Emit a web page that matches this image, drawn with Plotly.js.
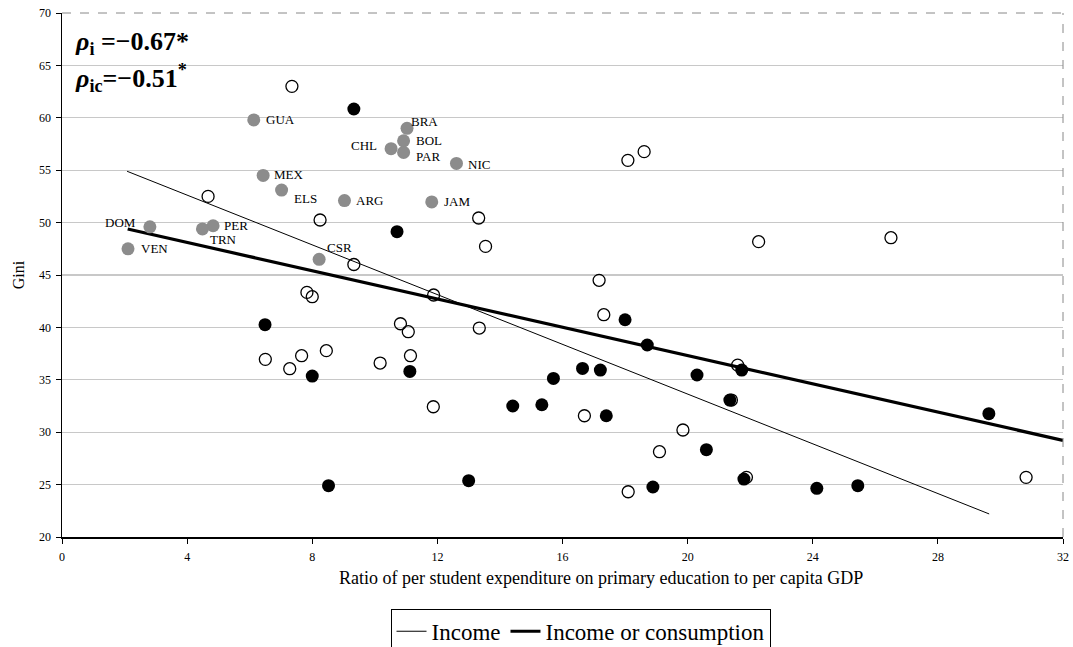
<!DOCTYPE html>
<html>
<head>
<meta charset="utf-8">
<script src="https://cdn.plot.ly/plotly-3.0.1.min.js"></script>
<style>html,body{margin:0;padding:0;background:#fff;}#chart{width:1073px;height:647px;}</style>
</head>
<body>
<div id="chart"></div>
<script>
// Latin American countries (gray, labelled)
var latNames = ["GUA","MEX","ELS","ARG","DOM","PER","TRN","VEN","CSR","BRA","BOL","CHL","PAR","NIC","JAM"];
var latX = [6.13, 6.43, 7.02, 9.03, 2.81, 4.83, 4.49, 2.11, 8.22, 11.03, 10.92, 10.52, 10.92, 12.61, 11.82];
var latY = [59.8, 54.5, 53.1, 52.1, 49.6, 49.7, 49.4, 47.5, 46.5, 59.0, 57.8, 57.05, 56.7, 55.65, 51.97];

// Income-based Gini (open circles)
var incX = [7.35, 4.67, 8.25, 9.33, 13.32, 13.54, 18.09, 18.61, 22.27, 26.50, 7.83, 8.0, 6.50, 7.28, 7.66, 8.45, 11.88, 10.82, 11.07, 13.34, 10.17, 11.14, 11.87, 17.17, 17.32, 16.70, 18.10, 19.85, 19.10, 30.82, 21.40, 21.60, 21.88];
var incY = [63.0, 52.5, 50.25, 46.0, 50.44, 47.73, 55.94, 56.77, 48.18, 48.56, 43.34, 42.93, 36.95, 36.06, 37.3, 37.78, 43.09, 40.35, 39.59, 39.94, 36.6, 37.3, 32.43, 44.49, 41.21, 31.57, 24.32, 30.21, 28.14, 25.69, 33.07, 36.4, 25.69];

// Consumption-based Gini (filled black)
var conX = [9.33, 10.71, 6.49, 8.0, 8.52, 11.12, 13.0, 14.41, 15.34, 15.71, 16.64, 17.21, 17.40, 18.0, 18.71, 18.89, 20.30, 20.60, 21.35, 21.73, 21.80, 24.13, 25.44, 29.63];
var conY = [60.84, 49.13, 40.26, 35.36, 24.9, 35.8, 25.37, 32.5, 32.62, 35.13, 36.09, 35.93, 31.57, 40.73, 38.32, 24.77, 35.46, 28.33, 33.07, 35.93, 25.53, 24.64, 24.9, 31.77];

// Fitted lines
var fitIncX = [2.08, 29.64];
var fitIncY = [54.9, 22.2];
var fitAllX = [2.1, 32];
var fitAllY = [49.39, 29.22];

// Tick labels
var xTicks = [0, 4, 8, 12, 16, 20, 24, 28, 32];
var yTicks = [20, 25, 30, 35, 40, 45, 50, 55, 60, 65, 70];

// label placement (pixel offsets from marker centre), style only
var labelStyle = {
  GUA: {dx: 10, dy: 0, a: "left"},  MEX: {dx: 9, dy: -1, a: "left"},  ELS: {dx: 10, dy: 8, a: "left"},
  ARG: {dx: 10, dy: 0, a: "left"},  DOM: {dx: -12, dy: -4, a: "right"}, PER: {dx: 9, dy: 0, a: "left"},
  TRN: {dx: 6, dy: 11, a: "left"},  VEN: {dx: 11, dy: 0, a: "left"},  CSR: {dx: 6, dy: -12, a: "left"},
  BRA: {dx: 2, dy: -7, a: "left"},  BOL: {dx: 10, dy: 0, a: "left"},  CHL: {dx: -12, dy: -3, a: "right"},
  PAR: {dx: 10, dy: 4, a: "left"},  NIC: {dx: 10, dy: 1, a: "left"},  JAM: {dx: 10, dy: 0, a: "left"}
};

var serif = "'Liberation Serif', 'Times New Roman', serif";

var traces = [
  {x: fitIncX, y: fitIncY, mode: "lines", name: "Income", line: {color: "#000", width: 1}, hoverinfo: "skip"},
  {x: fitAllX, y: fitAllY, mode: "lines", name: "Income or consumption", line: {color: "#000", width: 3.2}, hoverinfo: "skip"},
  {x: incX, y: incY, mode: "markers", showlegend: false,
   marker: {symbol: "circle-open", size: 12, color: "#000", line: {width: 1.3, color: "#000"}}},
  {x: conX, y: conY, mode: "markers", showlegend: false,
   marker: {symbol: "circle", size: 13, color: "#000"}},
  {x: latX, y: latY, mode: "markers", showlegend: false,
   marker: {symbol: "circle", size: 13, color: "#8c8c8c"}}
];

var annotations = [
  {xref: "paper", yref: "paper", x: 0.538, y: -0.078, xanchor: "center", yanchor: "middle", showarrow: false,
   text: "Ratio of per student expenditure on primary education to per capita GDP",
   font: {family: serif, size: 18, color: "#000"}},
  {xref: "paper", yref: "paper", x: 0.011, y: 0.943, xanchor: "left", yanchor: "middle", showarrow: false, align: "left",
   text: "<b><i>ρ</i><sub>i</sub> =−0.67*</b>", font: {family: serif, size: 26, color: "#000"}},
  {xref: "paper", yref: "paper", x: 0.011, y: 0.876, xanchor: "left", yanchor: "middle", showarrow: false, align: "left",
   text: "<b><i>ρ</i><sub>ic</sub>=−0.51<sup>*</sup></b>", font: {family: serif, size: 26, color: "#000"}}
];
latNames.forEach(function (n, i) {
  var s = labelStyle[n];
  annotations.push({x: latX[i], y: latY[i], xref: "x", yref: "y", text: n, showarrow: false,
    xanchor: s.a, yanchor: "middle", xshift: s.dx, yshift: -s.dy,
    font: {family: serif, size: 13, color: "#000"}});
});

var layout = {
  width: 1073, height: 647,
  margin: {l: 62, r: 10, t: 13, b: 110, autoexpand: false},
  paper_bgcolor: "#fff", plot_bgcolor: "#fff",
  font: {family: serif, color: "#000", size: 12},
  showlegend: true,
  legend: {orientation: "h", x: 0.518, xanchor: "center", y: -0.137, yanchor: "top",
    bordercolor: "#000", borderwidth: 1, font: {family: serif, size: 23, color: "#000"},
    itemwidth: 30, tracegroupgap: 0},
  xaxis: {range: [0, 32], tickvals: xTicks, ticktext: xTicks.map(String),
    showgrid: false, zeroline: false, showline: true, linecolor: "#000", linewidth: 1.5,
    ticks: "outside", ticklen: 5, tickcolor: "#000", ticklabelstandoff: 3,
    tickfont: {family: serif, size: 12, color: "#000"}},
  yaxis: {range: [20, 70], tickvals: yTicks, ticktext: yTicks.map(String),
    showgrid: true, gridcolor: "#c8c8c8", gridwidth: 1.3, zeroline: false, showline: true, linecolor: "#000", linewidth: 1.5,
    ticks: "outside", ticklen: 5, tickcolor: "#000", ticklabelstandoff: 2,
    tickfont: {family: serif, size: 12, color: "#000"},
    title: {text: "Gini", font: {family: serif, size: 16, color: "#000"}, standoff: 10}},
  shapes: [
    {type: "line", xref: "paper", yref: "paper", x0: 0, x1: 1, y0: 1, y1: 1, line: {color: "#888", width: 1, dash: "dash"}},
    {type: "line", xref: "paper", yref: "paper", x0: 1, x1: 1, y0: 0, y1: 1, line: {color: "#888", width: 1, dash: "dash"}}
  ],
  annotations: annotations
};

Plotly.newPlot("chart", traces, layout, {displayModeBar: false, staticPlot: true});
</script>
</body>
</html>
